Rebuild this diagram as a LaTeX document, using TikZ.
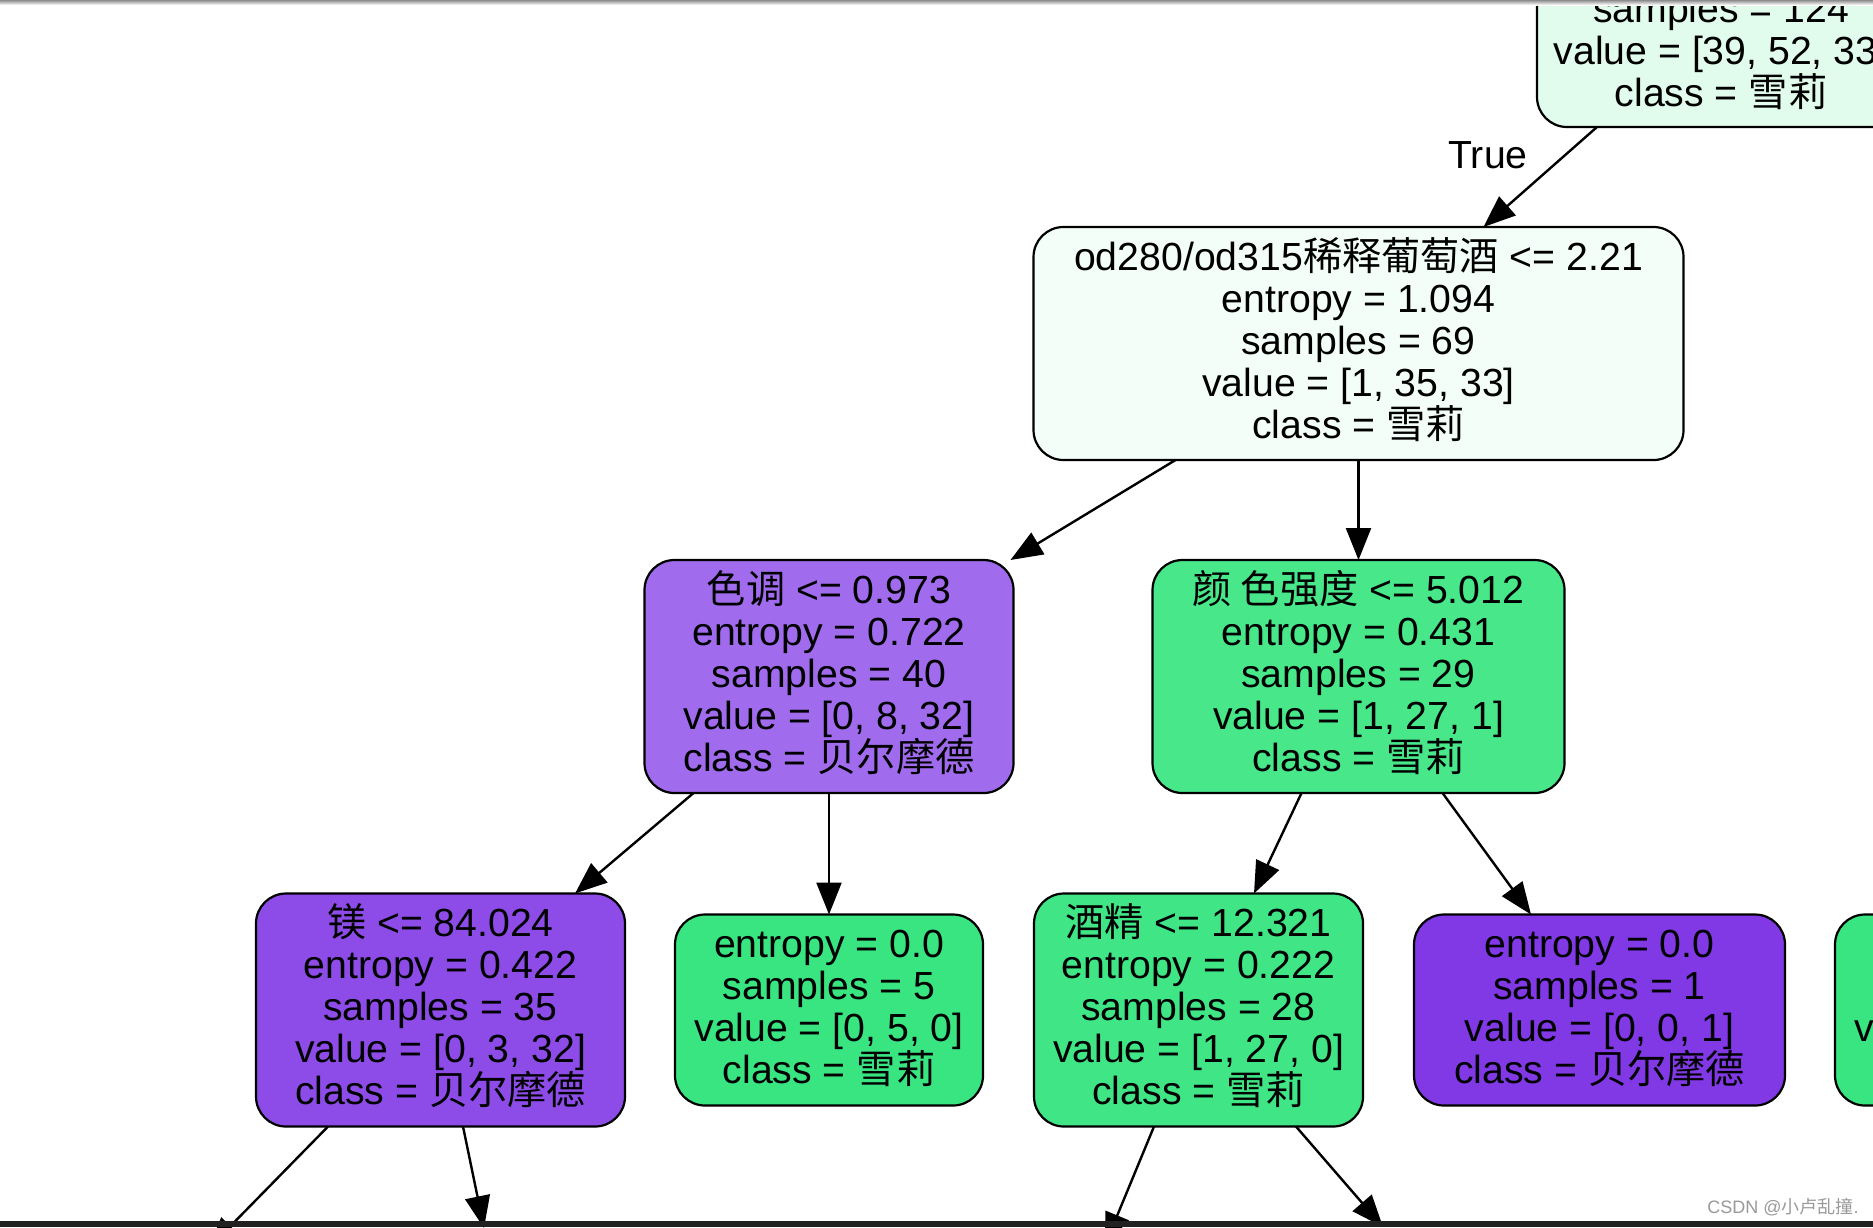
\documentclass[tikz,border=0pt]{standalone}
\usepackage{fontspec}
\setmainfont{Liberation Sans}
\newfontfamily\cjk{Noto Sans CJK SC}
\usetikzlibrary{arrows.meta,positioning}
\definecolor{rootc}{HTML}{E1FBEC}
\definecolor{splitc}{HTML}{F4FEF9}
\definecolor{hueC}{HTML}{A06BEC}
\definecolor{strengthc}{HTML}{47E78A}
\definecolor{magc}{HTML}{8D4CE7}
\definecolor{alcc}{HTML}{40E686}
\definecolor{leafg}{HTML}{39E581}
\definecolor{leafp}{HTML}{8139E5}
\newcommand{\zh}[1]{\smash{\cjk #1}}
\newcommand{\topline}{\rule{0pt}{17.2pt}}
\tikzset{%
   treenode/.style={
      draw=black,
      line width=1.1pt,
      rounded corners=15pt,
      inner sep=0pt,
      outer sep=0pt,
      align=center,
      font=\fontsize{19.6}{21}\selectfont,
      execute at end node=\strut
   },
   five/.style={
      treenode,
      minimum height=116.5pt
   },
   four/.style={
      treenode,
      minimum height=95.5pt
   },
   edge/.style={
      line width=1.2pt,
      -{Triangle[length=16pt,width=12.5pt]}
   },
}
\begin{document}
\begin{tikzpicture}[x=0.5pt,y=-0.5pt]
   \useasboundingbox (0,0) rectangle (1873,1227);
   \clip (0,0) rectangle (1873,1227);
   \fill[white] (0,0) rectangle (1873,1227);
   % upper part of the tree
   \node[five,fill=rootc,minimum width=184pt] (root) at (1721,10.5) {\rule{0pt}{18pt}\\ \strut\\ samples = 124\\ value = [39, 52, 33\phantom{]}\\ class = \zh{雪莉}};
   \node[five,fill=splitc,minimum width=325pt] (a) at (1358.5,343.5) {\topline od280/od315\zh{稀释葡萄酒} <= 2.21\\ entropy = 1.094\\ samples = 69\\ value = [1, 35, 33]\\ class = \zh{雪莉}};
   \node[font=\fontsize{19.6}{21}\selectfont] (lbltrue) at (1488,155) {True};
   % third row
   \node[five,fill=hueC,minimum width=184.5pt] (b) at (829,676.5) {\topline\zh{色调} <= 0.973\\ entropy = 0.722\\ samples = 40\\ value = [0, 8, 32]\\ class = \zh{贝尔摩德}};
   \node[five,fill=strengthc,minimum width=206pt,right=69.5pt of b] (c) {\topline\zh{颜 色强度} <= 5.012\\ entropy = 0.431\\ samples = 29\\ value = [1, 27, 1]\\ class = \zh{雪莉}};
   % fourth row
   \node[five,fill=magc,minimum width=184.5pt] (d) at (440.5,1010) {\topline\zh{镁} <= 84.024\\ entropy = 0.422\\ samples = 35\\ value = [0, 3, 32]\\ class = \zh{贝尔摩德}};
   \node[four,fill=leafg,minimum width=154pt,right=25pt of d] (e) {\topline entropy = 0.0\\ samples = 5\\ value = [0, 5, 0]\\ class = \zh{雪莉}};
   \node[five,fill=alcc,minimum width=164.5pt,right=25.5pt of e] (f) {\topline\zh{酒精} <= 12.321\\ entropy = 0.222\\ samples = 28\\ value = [1, 27, 0]\\ class = \zh{雪莉}};
   \node[four,fill=leafp,minimum width=185.5pt,right=25.5pt of f] (g) {\topline entropy = 0.0\\ samples = 1\\ value = [0, 0, 1]\\ class = \zh{贝尔摩德}};
   \node[four,fill=leafg,minimum width=154pt,right=25pt of g] (h) {\topline\\ \strut\\ v\phantom{alue = [0, 5, 0]}\\ \strut};
   % free ends below the page
   \coordinate (dl) at (208,1249);
   \coordinate (dr) at (484,1228);
   \coordinate (fl) at (1105,1245);
   \coordinate (fr) at (1383,1227);
   \draw[edge] ([xshift=30pt]root.south west) -- ([xshift=225pt]a.north west);
   \draw[edge] ([xshift=71pt]a.south west) -- ([xshift=183pt]b.north west);
   \draw[edge] (a.south) -- (c.north);
   \draw[edge] ([xshift=24.5pt]b.south west) -- ([xshift=159.5pt]d.north west);
   \draw[edge] (b.south) -- (e.north);
   \draw[edge] ([xshift=74.5pt]c.south west) -- ([xshift=110pt]f.north west);
   \draw[edge] ([xshift=145pt]c.south west) -- ([xshift=58.5pt]g.north west);
   \draw[edge] ([xshift=36pt]d.south west) -- (dl);
   \draw[edge] ([xshift=103.5pt]d.south west) -- (dr);
   \draw[edge] ([xshift=60pt]f.south west) -- (fl);
   \draw[edge] ([xshift=131pt]f.south west) -- (fr);
   % window edges and watermark
   \shade[top color=black!45,bottom color=white] (0,0) rectangle (1873,5);
   \fill[black!87] (0,1221) rectangle (1873,1227);
   \node[text=black!40,font=\fontsize{9}{10}\selectfont] (mark) at (1783,1208) {CSDN @\zh{小卢乱撞}.};
\end{tikzpicture}
\end{document}
